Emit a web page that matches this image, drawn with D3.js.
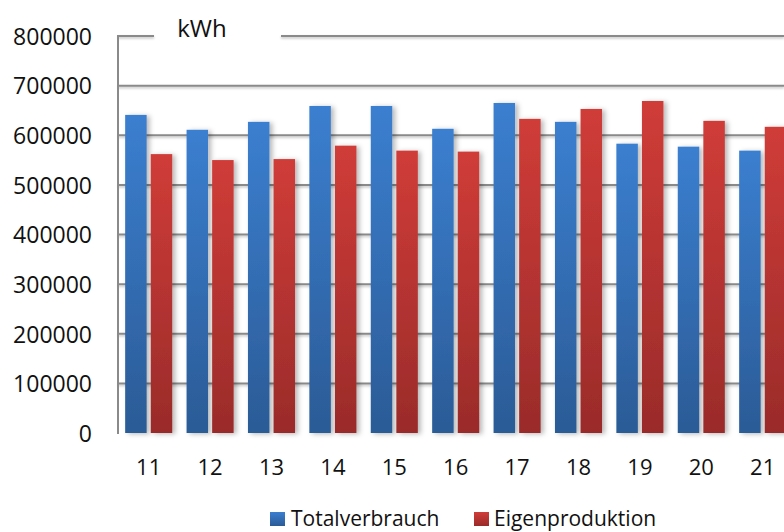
<!DOCTYPE html>
<html>
<head>
<meta charset="utf-8">
<script src="https://cdn.jsdelivr.net/npm/d3@7"></script>
<style>
  html, body { margin: 0; padding: 0; background: #fff; }
  svg { display: block; font-family: "Open Sans", "Noto Sans", sans-serif; }
</style>
</head>
<body>
<svg id="chart" width="784" height="532"></svg>
<script>
// Monthly energy figures in kWh
const categories = ["11", "12", "13", "14", "15", "16", "17", "18", "19", "20", "21"];
const seriesNames = ["Totalverbrauch", "Eigenproduktion"];
const totalverbrauch = [641000, 611000, 627000, 659000, 659000, 613000, 665000, 627000, 583000, 577000, 569000];
const eigenproduktion = [562000, 550000, 552000, 579000, 569000, 567000, 633000, 653000, 669000, 629000, 617000];
const yTicks = [0, 100000, 200000, 300000, 400000, 500000, 600000, 700000, 800000];
const unitLabel = "kWh";

const seriesValues = [totalverbrauch, eigenproduktion];
const colors = {
  Totalverbrauch: { top: "#3b7fd0", bottom: "#2b5b96" },
  Eigenproduktion: { top: "#d03c38", bottom: "#9a2b2a" }
};

const svg = d3.select("#chart");
const W = 784;
const plot = { left: 118, top: 36, bottom: 433 };
const step = 61.4;

const x = d3.scaleBand()
  .domain(categories)
  .range([plot.left, plot.left + step * categories.length])
  .paddingInner(0).paddingOuter(0);

const xs = d3.scaleBand()
  .domain(seriesNames)
  .range([0, x.bandwidth()])
  .paddingInner(0.16)
  .paddingOuter(0.28);

const y = d3.scaleLinear().domain([0, 800000]).range([plot.bottom, plot.top]);

const defs = svg.append("defs");
seriesNames.forEach((s, i) => {
  const g = defs.append("linearGradient")
    .attr("id", "grad" + i)
    .attr("x1", 0).attr("y1", 0).attr("x2", 0).attr("y2", 1);
  g.append("stop").attr("offset", "0%").attr("stop-color", colors[s].top);
  g.append("stop").attr("offset", "100%").attr("stop-color", colors[s].bottom);
});
const shadow = defs.append("filter").attr("id", "shadow")
  .attr("x", "-30%").attr("y", "-10%").attr("width", "170%").attr("height", "130%");
shadow.append("feDropShadow")
  .attr("dx", 3).attr("dy", 1).attr("stdDeviation", 2.4)
  .attr("flood-color", "#000").attr("flood-opacity", 0.28);
const lineShadow = defs.append("filter").attr("id", "lineShadow")
  .attr("x", "-5%").attr("y", "-200%").attr("width", "110%").attr("height", "500%");
lineShadow.append("feDropShadow")
  .attr("dx", 0).attr("dy", 1.5).attr("stdDeviation", 0.8)
  .attr("flood-color", "#000").attr("flood-opacity", 0.25);

// Horizontal gridlines
const gridG = svg.append("g").attr("filter", "url(#lineShadow)");
gridG.selectAll("line.grid")
  .data(yTicks.filter(t => t > 0 && t < 800000))
  .join("line")
  .attr("class", "grid")
  .attr("x1", plot.left).attr("x2", W)
  .attr("y1", d => y(d)).attr("y2", d => y(d))
  .attr("stroke", "#8a8a8a").attr("stroke-width", 2);

// Top gridline, interrupted by the unit label
gridG.append("line")
  .attr("x1", plot.left).attr("x2", 154)
  .attr("y1", y(800000)).attr("y2", y(800000))
  .attr("stroke", "#8a8a8a").attr("stroke-width", 2);
gridG.append("line")
  .attr("x1", 281).attr("x2", W)
  .attr("y1", y(800000)).attr("y2", y(800000))
  .attr("stroke", "#8a8a8a").attr("stroke-width", 2);

svg.append("text")
  .attr("x", 202).attr("y", 37)
  .attr("text-anchor", "middle")
  .attr("font-size", 24)
  .attr("fill", "#111")
  .text(unitLabel);

// Bars
const barG = svg.append("g");
seriesNames.forEach((s, i) => {
  barG.append("g")
    .attr("filter", "url(#shadow)")
    .selectAll("rect")
    .data(categories.map((c, j) => ({ c, v: seriesValues[i][j] })))
    .join("rect")
    .attr("x", d => x(d.c) + xs(s))
    .attr("width", xs.bandwidth())
    .attr("y", d => y(d.v))
    .attr("height", d => y(0) - y(d.v))
    .attr("fill", `url(#grad${i})`);
});

// Axes lines
svg.append("line")
  .attr("x1", plot.left).attr("x2", plot.left)
  .attr("y1", plot.top - 1).attr("y2", plot.bottom + 1)
  .attr("stroke", "#8a8a8a").attr("stroke-width", 2);
svg.append("line")
  .attr("filter", "url(#lineShadow)")
  .attr("x1", plot.left - 1).attr("x2", W)
  .attr("y1", y(0)).attr("y2", y(0))
  .attr("stroke", "#8a8a8a").attr("stroke-width", 2);

// Y axis labels
const yAxis = d3.axisLeft(y).tickValues(yTicks).tickSize(0).tickPadding(0).tickFormat(d3.format("d"));
const yG = svg.append("g").attr("transform", `translate(92,0)`).call(yAxis);
yG.select(".domain").remove();
yG.selectAll("text").attr("font-size", 23).attr("fill", "#111")
  .attr("font-family", "'Open Sans', sans-serif").attr("dy", "0.36em");

// X axis labels
const xAxis = d3.axisBottom(x).tickSize(0).tickPadding(0);
const xG = svg.append("g").attr("transform", `translate(0,475)`).call(xAxis);
xG.select(".domain").remove();
xG.selectAll("text").attr("font-size", 22).attr("fill", "#111")
  .attr("font-family", "'Open Sans', sans-serif").attr("dy", 0);

// Legend
const legendPos = [{ sx: 270, tx: 291 }, { sx: 474, tx: 494 }];
seriesNames.forEach((s, i) => {
  const lg = svg.append("g");
  lg.append("rect")
    .attr("x", legendPos[i].sx).attr("y", 512)
    .attr("width", 15).attr("height", 14)
    .attr("fill", `url(#grad${i})`);
  lg.append("text")
    .attr("x", legendPos[i].tx).attr("y", 526)
    .attr("font-size", 21).attr("fill", "#111")
    .text(s);
});
</script>
</body>
</html>
